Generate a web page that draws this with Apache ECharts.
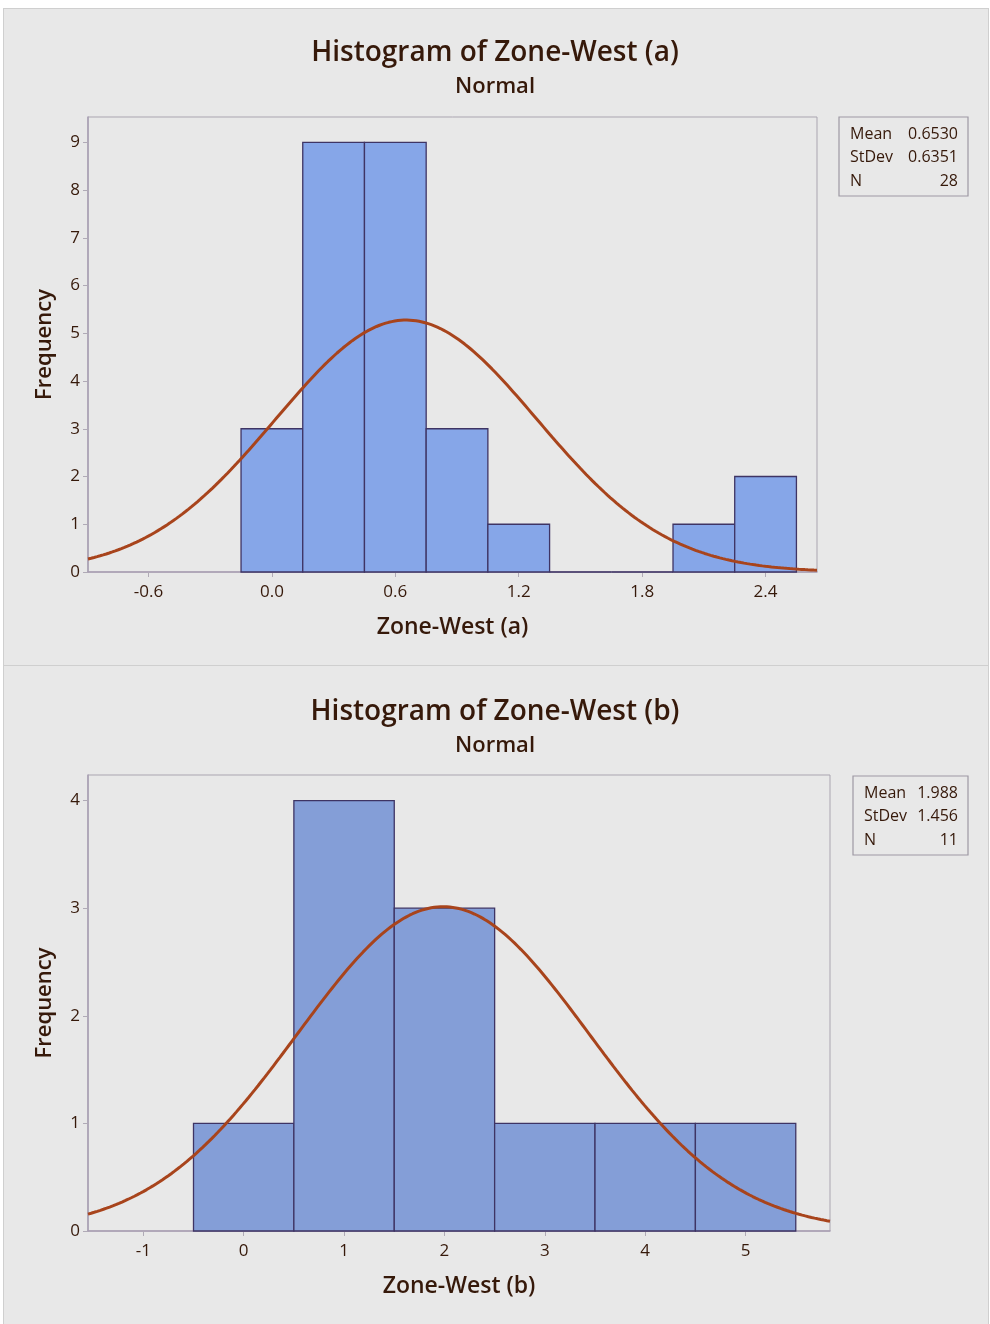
<!DOCTYPE html>
<html>
<head>
<meta charset="utf-8">
<script src="https://cdn.jsdelivr.net/npm/echarts@6/dist/echarts.min.js"></script>
<style>
  html, body { margin: 0; padding: 0; background: #ffffff; }
  #wrap { position: relative; width: 990px; height: 1324px; }
  .panel { position: absolute; left: 3px; width: 986px; background: #e8e8e8;
           border: 1px solid #cfcfcf; box-sizing: border-box; }
  #chart { position: absolute; left: 0; top: 0; width: 990px; height: 1324px; }
</style>
</head>
<body>
<div id="wrap">
  <div class="panel" style="top:8px;height:658px"></div>
  <div class="panel" style="top:665px;height:660px"></div>
  <div id="chart"></div>
</div>
<script>
// ---- Zone-West (a) ----
const binCentersA = [0.0, 0.3, 0.6, 0.9, 1.2, 1.5, 1.8, 2.1, 2.4];
const countsA = [3, 9, 9, 3, 1, 0, 0, 1, 2];
const binWidthA = 0.3;
const xTicksA = [-0.6, 0.0, 0.6, 1.2, 1.8, 2.4];
const yTicksA = [0, 1, 2, 3, 4, 5, 6, 7, 8, 9];
const statValuesA = [0.6530, 0.6351, 28];
const statTextA = ['0.6530', '0.6351', '28'];

// ---- Zone-West (b) ----
const binCentersB = [0, 1, 2, 3, 4, 5];
const countsB = [1, 4, 3, 1, 1, 1];
const binWidthB = 1;
const xTicksB = [-1, 0, 1, 2, 3, 4, 5];
const yTicksB = [0, 1, 2, 3, 4];
const statValuesB = [1.988, 1.456, 11];
const statTextB = ['1.988', '1.456', '11'];

const statLabels = ['Mean', 'StDev', 'N'];

const FONT = '"Open Sans", "Noto Sans", sans-serif';
const TEXT_DARK = '#36190a';
const AXIS_COLOR = '#a99fb3';
const BAR_EDGE = '#3e3464';
const CURVE = '#a8441c';

// Fitted normal curve scaled to counts: N * binWidth * pdf(x; mean, sd)
function normalCurve(stats, width, lo, hi) {
  const [mean, sd, n] = stats;
  const pts = [];
  const steps = 240;
  for (let i = 0; i <= steps; i++) {
    const x = lo + (hi - lo) * i / steps;
    const z = (x - mean) / sd;
    pts.push([x, n * width * Math.exp(-0.5 * z * z) / (sd * Math.sqrt(2 * Math.PI))]);
  }
  return pts;
}

function barRenderer(fill) {
  return function (params, api) {
    const c = api.value(0), h = api.value(1), w = api.value(2);
    const p0 = api.coord([c - w / 2, h]);
    const p1 = api.coord([c + w / 2, 0]);
    return {
      type: 'rect',
      shape: { x: p0[0], y: p0[1], width: p1[0] - p0[0], height: p1[1] - p0[1] },
      style: { fill: fill, stroke: BAR_EDGE, lineWidth: 1.3 }
    };
  };
}

function statsBox(x, y, w, h, values, valueRight) {
  const children = [{
    type: 'rect', shape: { x: 0, y: 0, width: w, height: h },
    style: { fill: '#e8e8e8', stroke: '#9d98a3', lineWidth: 1.2 }
  }];
  statLabels.forEach((lab, i) => {
    const cy = 17 + i * 23.5;
    children.push({ type: 'text', x: 11, y: cy,
      style: { text: lab, font: '16px ' + FONT, fill: TEXT_DARK, verticalAlign: 'middle', align: 'left' } });
    children.push({ type: 'text', x: valueRight, y: cy,
      style: { text: values[i], font: '16px ' + FONT, fill: TEXT_DARK, verticalAlign: 'middle', align: 'right' } });
  });
  return { type: 'group', x: x, y: y, children: children };
}

const xMinA = -0.894, xMaxA = 2.65, yMaxA = 9.53;
const xMinB = -1.551, xMaxB = 5.841, yMaxB = 4.238;

function xAxisCfg(gridIndex, min, max, ticks, name, digits) {
  return {
    type: 'value', gridIndex: gridIndex, min: min, max: max,
    name: name, nameLocation: 'middle', nameGap: 44,
    nameTextStyle: { fontFamily: FONT, fontSize: 23, fontWeight: 600, color: TEXT_DARK },
    axisLine: { show: true, onZero: false, lineStyle: { color: AXIS_COLOR, width: 1.5 } },
    axisTick: { show: true, length: 5, customValues: ticks, lineStyle: { color: '#b0aab6' } },
    axisLabel: { customValues: ticks, margin: 12, fontFamily: FONT, fontSize: 17, color: TEXT_DARK,
      formatter: v => digits ? Number(v).toFixed(digits) : String(Math.round(v)) },
    splitLine: { show: false }
  };
}

function yAxisCfg(gridIndex, max, ticks) {
  return {
    type: 'value', gridIndex: gridIndex, min: 0, max: max,
    name: 'Frequency', nameLocation: 'middle', nameGap: 32,
    nameTextStyle: { fontFamily: FONT, fontSize: 22, fontWeight: 600, color: TEXT_DARK },
    axisLine: { show: true, onZero: false, lineStyle: { color: AXIS_COLOR, width: 1.5 } },
    axisTick: { show: true, length: 5, customValues: ticks, lineStyle: { color: '#b0aab6' } },
    axisLabel: { customValues: ticks, margin: 8, fontFamily: FONT, fontSize: 17, color: TEXT_DARK },
    splitLine: { show: false }
  };
}

const chart = echarts.init(document.getElementById('chart'), null, { renderer: 'canvas' });

chart.setOption({
  backgroundColor: 'transparent',
  animation: false,
  title: [
    { text: 'Histogram of Zone-West (a)', left: 'center', top: 34,
      textStyle: { fontFamily: FONT, fontSize: 28, fontWeight: 600, color: TEXT_DARK } },
    { text: 'Normal', left: 'center', top: 71,
      textStyle: { fontFamily: FONT, fontSize: 22, fontWeight: 600, color: TEXT_DARK } },
    { text: 'Histogram of Zone-West (b)', left: 'center', top: 693,
      textStyle: { fontFamily: FONT, fontSize: 28, fontWeight: 600, color: TEXT_DARK } },
    { text: 'Normal', left: 'center', top: 730,
      textStyle: { fontFamily: FONT, fontSize: 22, fontWeight: 600, color: TEXT_DARK } }
  ],
  grid: [
    { left: 88, top: 117, width: 729, height: 455, show: true,
      backgroundColor: 'transparent', borderColor: '#aaa5b0', borderWidth: 1 },
    { left: 88, top: 775, width: 742, height: 456, show: true,
      backgroundColor: 'transparent', borderColor: '#aaa5b0', borderWidth: 1 }
  ],
  xAxis: [
    xAxisCfg(0, xMinA, xMaxA, xTicksA, 'Zone-West (a)', 1),
    xAxisCfg(1, xMinB, xMaxB, xTicksB, 'Zone-West (b)', 0)
  ],
  yAxis: [
    yAxisCfg(0, yMaxA, yTicksA),
    yAxisCfg(1, yMaxB, yTicksB)
  ],
  graphic: [
    statsBox(839, 117, 129, 79, statTextA, 119),
    statsBox(853, 776, 115, 79, statTextB, 105)
  ],
  series: [
    {
      type: 'custom', xAxisIndex: 0, yAxisIndex: 0,
      renderItem: barRenderer('#86a6e8'),
      encode: { x: 0, y: 1 },
      data: binCentersA.map((c, i) => [c, countsA[i], binWidthA]),
      z: 2
    },
    {
      type: 'line', xAxisIndex: 0, yAxisIndex: 0, showSymbol: false, smooth: false,
      lineStyle: { color: CURVE, width: 3 },
      data: normalCurve(statValuesA, binWidthA, xMinA, xMaxA),
      z: 3
    },
    {
      type: 'custom', xAxisIndex: 1, yAxisIndex: 1,
      renderItem: barRenderer('#849ed7'),
      encode: { x: 0, y: 1 },
      data: binCentersB.map((c, i) => [c, countsB[i], binWidthB]),
      z: 2
    },
    {
      type: 'line', xAxisIndex: 1, yAxisIndex: 1, showSymbol: false, smooth: false,
      lineStyle: { color: CURVE, width: 3 },
      data: normalCurve(statValuesB, binWidthB, xMinB, xMaxB),
      z: 3
    }
  ]
});
</script>
</body>
</html>
